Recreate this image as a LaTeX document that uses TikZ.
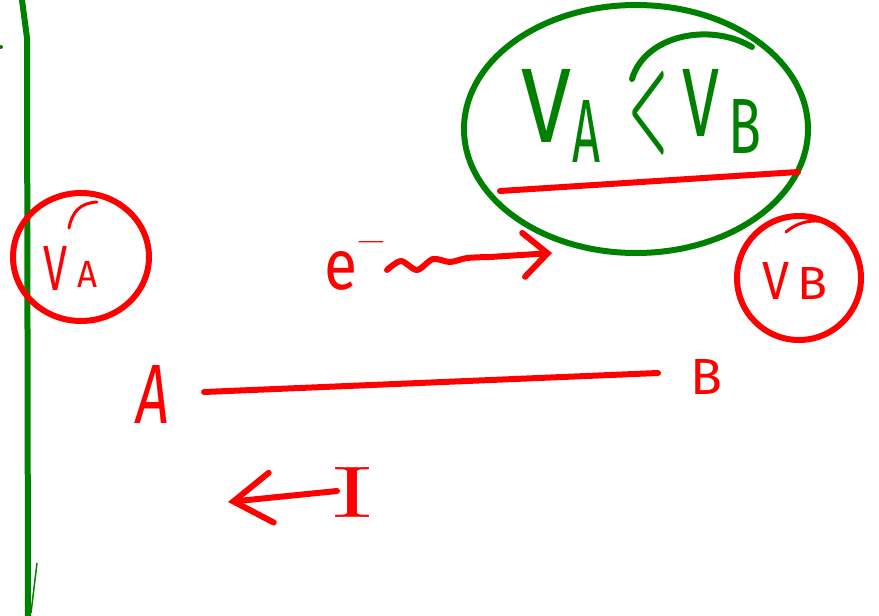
\documentclass[tikz,border=0pt]{standalone}
\usepackage{fontspec}
\usepackage{graphicx}
\setmainfont{Fira Sans}
\newfontfamily\serifI{Latin Modern Roman}
\usetikzlibrary{arrows.meta}
\definecolor{pgreen}{RGB}{0,128,0}
\definecolor{pred}{RGB}{255,0,0}
\newcommand\glyph[3]{\resizebox{#1pt}{#2pt}{#3}}
\tikzset{
  ink/.style={line width=6pt, line cap=round, line join=round},
  gink/.style={ink, draw=pgreen},
  rink/.style={ink, draw=pred},
  gtxt/.style={inner sep=0pt, text=pgreen},
  rtxt/.style={inner sep=0pt, text=pred},
}
\begin{document}
\begin{tikzpicture}[x=1pt,y=-1pt]
\useasboundingbox (0,0) rectangle (879,616);
% green vertical line
\coordinate (g0) at (22,0);
\coordinate (g1) at (27,38);
\coordinate (g2) at (28,620);
\draw[gink] (g0) -- (g1) -- (g2);
\coordinate (t0) at (31,613);
\coordinate (t1) at (37,563);
\draw[draw=pgreen, line width=1.5pt] (t0) -- (t1);
\fill[pgreen] (1,47) circle (2);
% green ellipse
\draw[gink] (636,129) ellipse [x radius=172, y radius=124];
\coordinate (h0) at (632,79);
\coordinate (h1) at (752,47);
\draw[gink] (h0) .. controls (645,35) and (710,22) .. (h1);
% green inequality
\node[gtxt] (gV1) at (547,106) {\glyph{50}{73}{V}};
\node[gtxt] (gA) at (586,131) {\glyph{28}{62}{A}};
\node[gtxt] (glt) at (649,113) {\glyph{40}{73}{\boldmath$<$}};
\node[gtxt] (gV2) at (701,103) {\glyph{37}{67}{V}};
\node[gtxt] (gB) at (745,126) {\glyph{33}{54}{B}};
% red underline
\coordinate (u0) at (500,191);
\coordinate (u1) at (798,172);
\draw[rink] (u0) -- (u1);
% VA circle
\draw[rink] (81,257) ellipse [x radius=68, y radius=64];
\coordinate (k0) at (69,228);
\coordinate (k1) at (97,202);
\draw[rink, line width=3pt] (k0) .. controls (72,212) and (80,203) .. (k1);
\node[rtxt] (rV) at (56,268) {\glyph{24}{44}{V}};
\node[rtxt] (rA) at (88,274) {\glyph{20}{26}{A}};
% VB circle
\draw[rink] (799,278) ellipse [x radius=62, y radius=62];
\coordinate (m0) at (786,232);
\coordinate (m1) at (835,225);
\draw[rink, line width=3pt] (m0) .. controls (800,220) and (818,218) .. (m1);
\node[rtxt] (bV) at (776,281) {\glyph{27}{37}{V}};
\node[rtxt] (bB) at (812,283) {\glyph{30}{32}{B}};
% e- and wavy arrow
\node[rtxt] (e) at (341,271) {\glyph{33}{38}{e}};
\node[rtxt, anchor=north] (minus) at (371,241) {\glyph{28}{6}{–}};
\coordinate (w0) at (387,270);
\coordinate (w1) at (552,253);
\draw[rink, -{Straight Barb[length=24pt,width=44pt,line cap=round]}]
  plot[smooth] coordinates {(w0) (401,261) (417,270) (433,259) (450,262) (467,258) (490,257)} -- (w1);
% A --- B
\node[rtxt] (A) at (153,394) {\glyph{33}{58}{\itshape A}};
\node[rtxt] (B) at (706,377) {\glyph{32}{35}{B}};
\coordinate (ab0) at (204,392);
\coordinate (ab1) at (658,373);
\draw[rink] (ab0) -- (ab1);
% current arrow
\node[rtxt] (I) at (353,492) {\glyph{40}{50}{\serifI I}};
\coordinate (i0) at (337,491);
\coordinate (i1) at (228,502);
\draw[rink, -{Straight Barb[length=38pt,width=50pt,line cap=round]}] (i0) -- (i1);
\end{tikzpicture}
\end{document}
